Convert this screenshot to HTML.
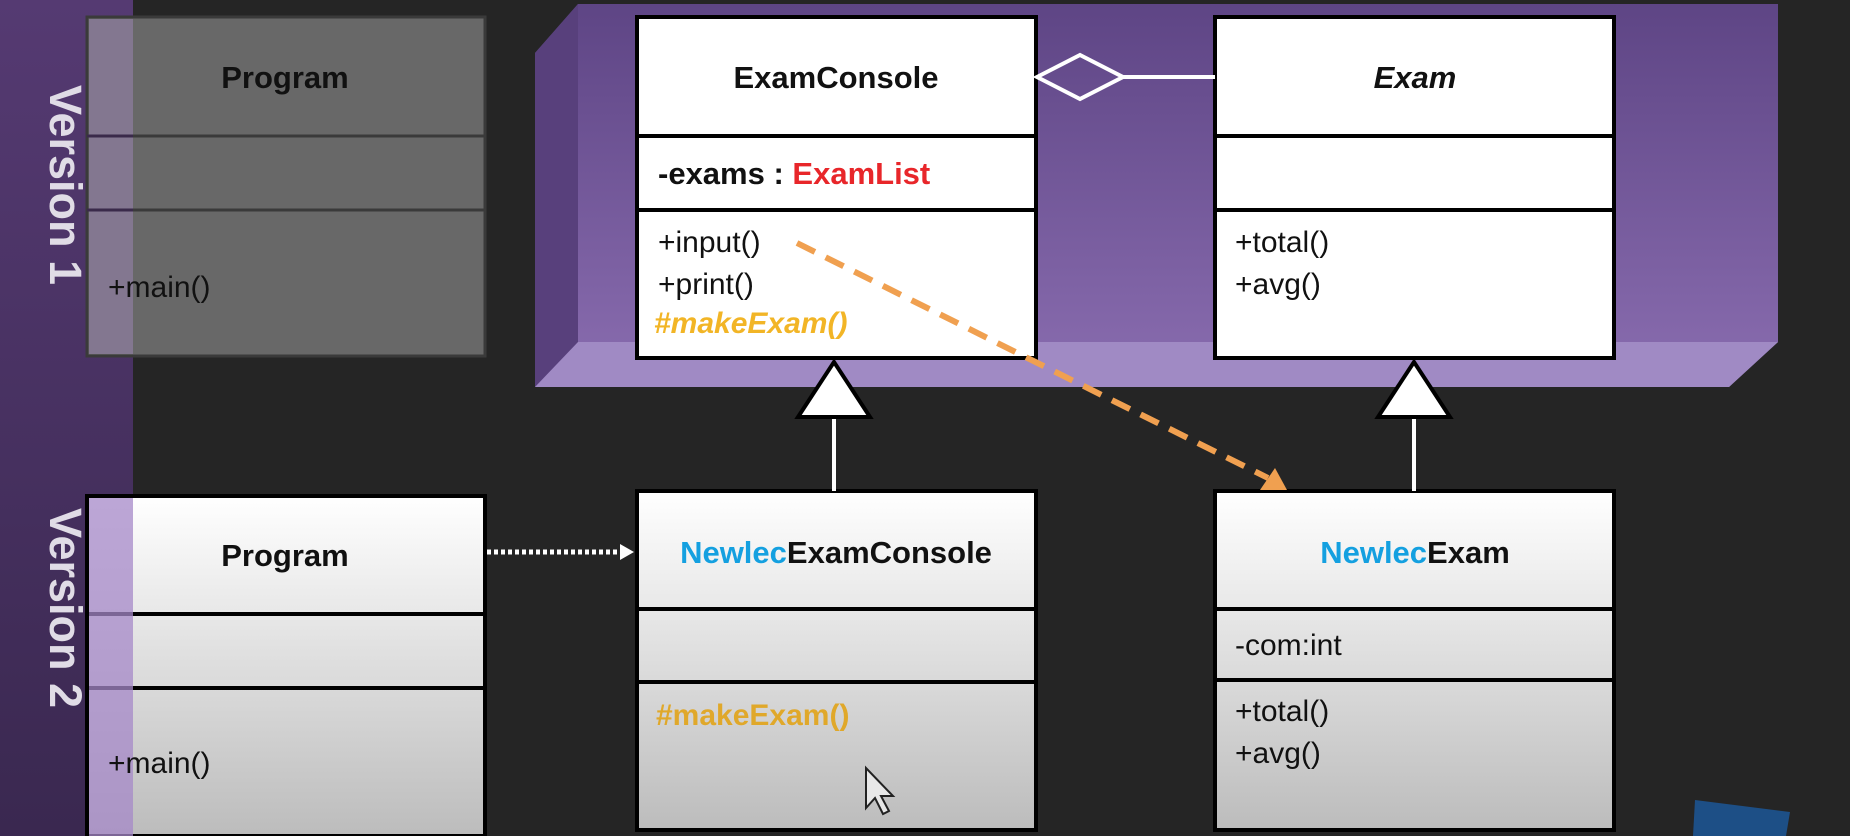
<!DOCTYPE html>
<html><head><meta charset="utf-8"><style>
html,body{margin:0;padding:0;background:#252525;}
svg{display:block;}
text{font-family:"Liberation Sans",sans-serif;}
</style></head><body>
<svg width="1850" height="836" viewBox="0 0 1850 836" xmlns="http://www.w3.org/2000/svg">
<defs>
<linearGradient id="slab" x1="0" y1="0" x2="0" y2="1">
<stop offset="0" stop-color="#5e4585"/><stop offset="1" stop-color="#8a6db0"/>
</linearGradient>
<linearGradient id="v2" x1="0" y1="0" x2="0" y2="1">
<stop offset="0" stop-color="#ffffff"/><stop offset="1" stop-color="#bcbcbc"/>
</linearGradient>
<linearGradient id="band" x1="0" y1="0" x2="0" y2="1">
<stop offset="0" stop-color="#553a72"/><stop offset="1" stop-color="#3a2850"/>
</linearGradient>
</defs>
<rect width="1850" height="836" fill="#252525"/>
<rect x="0" y="0" width="133" height="836" fill="url(#band)"/>
<polygon points="535,53 578,4 1778,4 1778,342 1729,387 535,387" fill="url(#slab)"/>
<polygon points="535,342 1778,342 1729,387 535,387" fill="#a08ac4"/>
<polygon points="535,53 578,4 578,342 535,387" fill="#58407c"/>
<text transform="translate(50,185) rotate(90)" text-anchor="middle" font-size="45" font-weight="bold" fill="#e0dce6">Version 1</text>
<text transform="translate(50,608) rotate(90)" text-anchor="middle" font-size="45" font-weight="bold" fill="#e0dce6">Version 2</text>
<g stroke="#3a3a3a" stroke-width="3">
<rect x="87" y="17" width="398" height="339" fill="#686868"/>
<line x1="87" y1="136" x2="485" y2="136"/><line x1="87" y1="210" x2="485" y2="210"/>
</g>
<rect x="89" y="19" width="44" height="335" fill="#8a7a9a" opacity="0.8"/>
<line x1="87" y1="136" x2="133" y2="136" stroke="#3a2a4a" stroke-width="3"/>
<line x1="87" y1="210" x2="133" y2="210" stroke="#3a2a4a" stroke-width="3"/>
<text x="285" y="88" text-anchor="middle" font-size="31" font-weight="bold" fill="#111">Program</text>
<text x="108" y="297" font-size="30" fill="#111">+main()</text>
<g stroke="#000" stroke-width="4" fill="#fff">
<rect x="637" y="17" width="399" height="341"/>
<line x1="637" y1="136" x2="1036" y2="136"/><line x1="637" y1="210" x2="1036" y2="210"/>
</g>
<text x="836" y="88" text-anchor="middle" font-size="31" font-weight="bold" fill="#111">ExamConsole</text>
<text x="658" y="184" font-size="31" font-weight="bold" fill="#111">-exams : <tspan fill="#e8262a">ExamList</tspan></text>
<text x="658" y="252" font-size="30" fill="#111">+input()</text>
<text x="658" y="294" font-size="30" fill="#111">+print()</text>
<text x="654" y="333" font-size="30" font-weight="bold" font-style="italic" fill="#f2b526">#makeExam()</text>
<g stroke="#000" stroke-width="4" fill="#fff">
<rect x="1215" y="17" width="399" height="341"/>
<line x1="1215" y1="136" x2="1614" y2="136"/><line x1="1215" y1="210" x2="1614" y2="210"/>
</g>
<text x="1415" y="88" text-anchor="middle" font-size="31" font-weight="bold" font-style="italic" fill="#111">Exam</text>
<text x="1235" y="252" font-size="30" fill="#111">+total()</text>
<text x="1235" y="294" font-size="30" fill="#111">+avg()</text>
<line x1="1123" y1="77" x2="1215" y2="77" stroke="#fff" stroke-width="4"/>
<polygon points="1037,77 1080,55 1123,77 1080,99" fill="none" stroke="#fff" stroke-width="4"/>
<g stroke="#000" stroke-width="4">
<rect x="87" y="496" width="398" height="340" fill="url(#v2)"/>
<line x1="87" y1="614" x2="485" y2="614"/><line x1="87" y1="688" x2="485" y2="688"/>
</g>
<rect x="89" y="498" width="44" height="338" fill="#a588c8" opacity="0.75"/>
<text x="285" y="566" text-anchor="middle" font-size="31" font-weight="bold" fill="#111">Program</text>
<text x="108" y="773" font-size="30" fill="#111">+main()</text>
<g stroke="#000" stroke-width="4">
<rect x="637" y="491" width="399" height="339" fill="url(#v2)"/>
<line x1="637" y1="609" x2="1036" y2="609"/><line x1="637" y1="682" x2="1036" y2="682"/>
</g>
<text x="836" y="563" text-anchor="middle" font-size="31" font-weight="bold" fill="#111"><tspan fill="#14a0e0">Newlec</tspan>ExamConsole</text>
<text x="656" y="725" font-size="30" font-weight="bold" fill="#e0a82a">#makeExam()</text>
<g stroke="#000" stroke-width="4">
<rect x="1215" y="491" width="399" height="339" fill="url(#v2)"/>
<line x1="1215" y1="609" x2="1614" y2="609"/><line x1="1215" y1="680" x2="1614" y2="680"/>
</g>
<text x="1415" y="563" text-anchor="middle" font-size="31" font-weight="bold" fill="#111"><tspan fill="#14a0e0">Newlec</tspan>Exam</text>
<text x="1235" y="655" font-size="30" fill="#111">-com:int</text>
<text x="1235" y="721" font-size="30" fill="#111">+total()</text>
<text x="1235" y="763" font-size="30" fill="#111">+avg()</text>
<line x1="834" y1="417" x2="834" y2="491" stroke="#fff" stroke-width="4"/>
<polygon points="834,362 798,417 870,417" fill="#fff" stroke="#000" stroke-width="4"/>
<line x1="1414" y1="417" x2="1414" y2="491" stroke="#fff" stroke-width="4"/>
<polygon points="1414,362 1378,417 1450,417" fill="#fff" stroke="#000" stroke-width="4"/>
<line x1="487" y1="552" x2="620" y2="552" stroke="#fff" stroke-width="5" stroke-dasharray="4,3"/>
<polygon points="620,544 634,552 620,560" fill="#fff"/>
<line x1="797" y1="243" x2="1268" y2="478" stroke="#f0a050" stroke-width="6" stroke-dasharray="20,12"/>
<polygon points="1287,490 1260,490 1275,468" fill="#f0a050"/>
<polygon points="866,768 866,808 875,798 883,814 889,811 881,796 893,796" fill="#e8e8e8" stroke="#222" stroke-width="2"/>
<polygon points="1695,800 1790,812 1786,836 1693,836" fill="#1d4f86"/>
</svg>
</body></html>
